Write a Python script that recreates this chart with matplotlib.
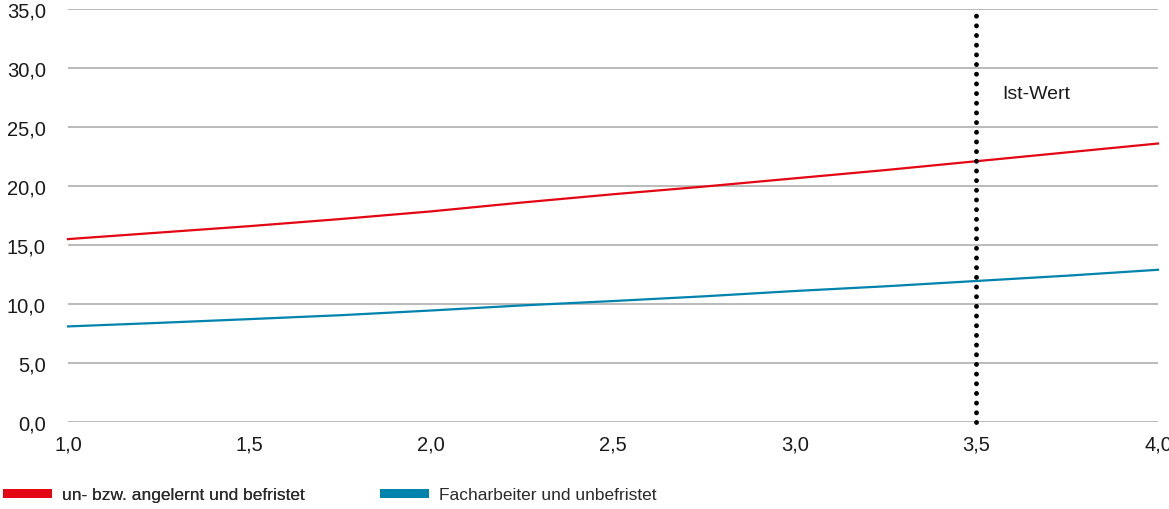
import matplotlib
matplotlib.use("Agg")
import matplotlib.pyplot as plt
from matplotlib.ticker import FuncFormatter, MultipleLocator
from matplotlib.patches import Patch

# Data
x_vals = [1.0, 1.25, 1.5, 1.75, 2.0, 2.25, 2.5, 2.75, 3.0, 3.25, 3.5, 3.75, 4.0]
red_series = [15.5, 16.05, 16.6, 17.2, 17.85, 18.6, 19.3, 19.95, 20.65, 21.35, 22.1, 22.85, 23.6]
blue_series = [8.1, 8.4, 8.72, 9.05, 9.45, 9.88, 10.25, 10.65, 11.1, 11.5, 11.95, 12.4, 12.9]
series_labels = ["un- bzw. angelernt und befristet", "Facharbeiter und unbefristet"]
ist_wert_x = 3.5
ist_wert_top = 34.6
ist_wert_label = "Ist-Wert"
ist_label_pos = (3.57, 27.8)

RED = "#E30613"
BLUE = "#0083AD"

plt.rcParams['font.family'] = ['Liberation Sans', 'DejaVu Sans']

fig = plt.figure(figsize=(11.69, 5.10), dpi=100)
ax = fig.add_axes([68 / 1169, 1 - 423 / 510, (1158 - 68) / 1169, (423 - 10) / 510])

ax.set_xlim(1.0, 4.0)
ax.set_ylim(0, 35)
ax.yaxis.set_major_locator(MultipleLocator(5))
ax.xaxis.set_major_locator(MultipleLocator(0.5))
fmt = FuncFormatter(lambda v, p: f"{v:.1f}".replace(".", ","))
ax.xaxis.set_major_formatter(fmt)
ax.yaxis.set_major_formatter(fmt)

ax.grid(axis="y", color="#b4b4b4", linewidth=1.3)
ax.set_axisbelow(True)
for s in ax.spines.values():
    s.set_visible(False)
ax.tick_params(axis="both", length=0, labelsize=14.5, labelcolor="#1a1a1a")
ax.tick_params(axis="y", pad=16)
ax.tick_params(axis="x", pad=9)

ax.plot(x_vals, red_series, color=RED, linewidth=1.6, clip_on=False, zorder=3)
ax.plot(x_vals, blue_series, color=BLUE, linewidth=1.6, clip_on=False, zorder=3)

ax.plot([ist_wert_x, ist_wert_x], [0, ist_wert_top], color="black", linewidth=3.5,
        linestyle=(0, (0.01, 1.98)), dash_capstyle="round", clip_on=False, zorder=4)
ax.text(ist_label_pos[0], ist_label_pos[1], ist_wert_label, fontsize=14, color="#1a1a1a",
        va="center", ha="left")

leg_font = {"family": ["Liberation Sans", "DejaVu Sans"], "size": 12.5}
leg_y = 1 - 496 / 510
legs = []
for color, label, x0 in [(RED, series_labels[0], 3 / 1169), (BLUE, series_labels[1], 380 / 1169)]:
    lg = fig.legend([Patch(facecolor=color, edgecolor="none")], [label], loc="center left",
                    bbox_to_anchor=(x0, leg_y), frameon=False, handlelength=2.82,
                    handleheight=0.45, handletextpad=0.57, borderpad=0, borderaxespad=0,
                    prop=leg_font)
    for t in lg.get_texts():
        t.set_color("#2a2a2a")
    legs.append(lg)
for lg in legs[:-1]:
    fig.add_artist(lg)

fig.savefig("out.png", dpi=100)
